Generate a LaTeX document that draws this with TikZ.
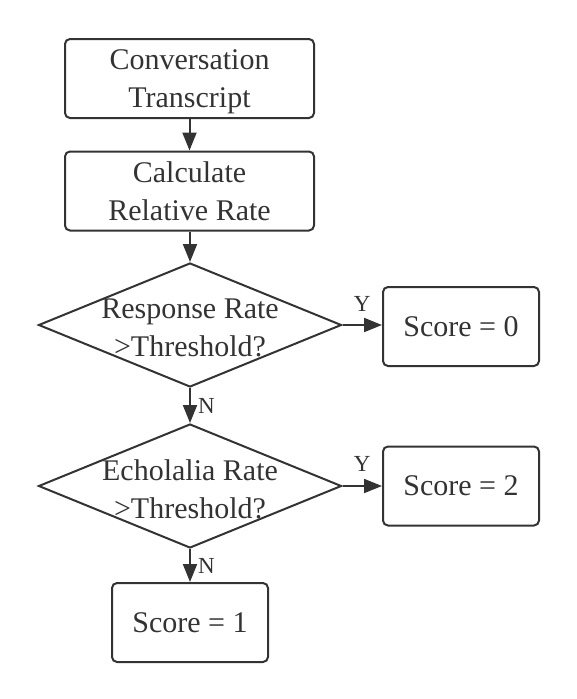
\documentclass[tikz,border=0pt]{standalone}
\usepackage{fontspec}
\setmainfont{Liberation Serif}
\usetikzlibrary{arrows.meta,shapes.geometric,positioning}
\definecolor{inkgray}{HTML}{333333}
\begin{document}
\begin{tikzpicture}[
    x=1pt, y=-1pt,
    procbox/.style={draw=inkgray, line width=2pt, rounded corners=5pt, minimum width=#1, minimum height=79pt, align=center, inner sep=0pt, text depth=0pt, text=inkgray, font=\fontsize{30}{38}\selectfont},
    procbox/.default=249pt,
    decision/.style={draw=inkgray, line width=2pt, diamond, minimum width=303pt, minimum height=124pt, inner sep=0pt},
    decisiontext/.style={align=center, text=inkgray, yshift=-3pt, font=\fontsize{30}{38}\selectfont},
    arrow/.style={-{Triangle[length=18pt,width=14pt]}, draw=inkgray, line width=2pt},
    branch/.style={text=inkgray, font=\fontsize{23}{26}\selectfont, inner sep=1pt}
]
    \useasboundingbox (0,0) rectangle (576,699);

    % Main column
    \node[procbox] (transcript) at (189.5,78.5) {Conversation\\Transcript};
    \node[procbox] (calc) at (189.5,191) {Calculate\\Relative Rate};

    % Decisions
    \node[decision] (resp) at (190,325) {};
    \node[decisiontext] (resptext) at (resp.center) {Response Rate\\>Threshold?};
    \node[decision] (echo) at (190,486) {};
    \node[decisiontext] (echotext) at (echo.center) {Echolalia Rate\\>Threshold?};

    % Scores
    \node[procbox=156pt] (score0) at (461,326.5) {Score = 0};
    \node[procbox=156pt] (score2) at (461,486) {Score = 2};
    \node[procbox=156pt] (score1) at (190,622.5) {Score = 1};

    % Arrows
    \draw[arrow] (transcript) -- (calc);
    \draw[arrow] (calc.south -| resp.north) -- (resp.north);
    \draw[arrow] (resp.east) -- (resp.east -| score0.west) node[branch, midway, above, yshift=12pt] (y1) {Y};
    \draw[arrow] (resp.south) -- (echo.north) node[branch, midway, right, xshift=6pt] (n1) {N};
    \draw[arrow] (echo.east) -- (score2.west) node[branch, midway, above, yshift=13pt] (y2) {Y};
    \draw[arrow] (echo.south) -- (score1.north) node[branch, midway, right, xshift=6pt] (n2) {N};

\end{tikzpicture}
\end{document}
